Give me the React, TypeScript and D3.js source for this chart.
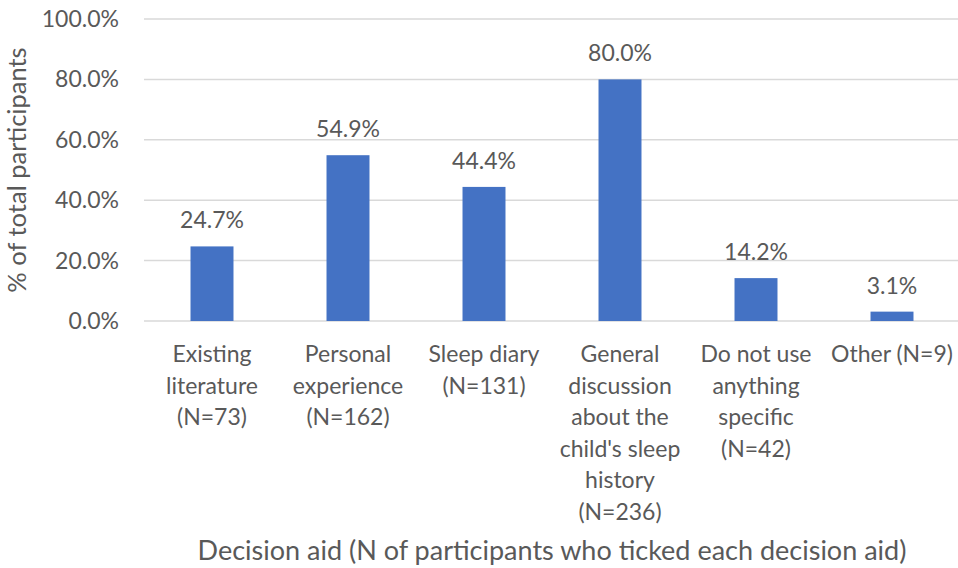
import React from "react";
import * as d3 from "d3";

const categories: string[][] = [
  ["Existing", "literature", "(N=73)"],
  ["Personal", "experience", "(N=162)"],
  ["Sleep diary", "(N=131)"],
  ["General", "discussion", "about the", "child's sleep", "history", "(N=236)"],
  ["Do not use", "anything", "specific", "(N=42)"],
  ["Other (N=9)"],
];
const values: number[] = [24.7, 54.9, 44.4, 80.0, 14.2, 3.1];
const yTicks: number[] = [0, 20, 40, 60, 80, 100];
const yTitle = "% of total participants";
const xTitle = "Decision aid (N of participants who ticked each decision aid)";

const W = 958;
const H = 568;
const FONT = "Lato, 'Open Sans', sans-serif";
const TEXT = "#595959";

export default function App() {
  const x = d3
    .scaleBand<number>()
    .domain(values.map((_, i) => i))
    .range([144, 960])
    .paddingInner(0.684)
    .paddingOuter(0.342);
  const y = d3.scaleLinear().domain([0, 100]).range([321, 19]);

  return (
    <svg width={W} height={H} style={{ position: "absolute", left: 0, top: 0, background: "#fff" }}>
      <rect width={W} height={H} fill="#fff" />
      {yTicks.map((t) => (
        <g key={t}>
          <line x1={144} x2={W} y1={y(t)} y2={y(t)} stroke="#D9D9D9" strokeWidth={1.5} />
          <text
            x={119}
            y={y(t)}
            dy="0.35em"
            textAnchor="end"
            fontFamily={FONT}
            fontSize={23}
            fill={TEXT}
          >
            {t.toFixed(1) + "%"}
          </text>
        </g>
      ))}
      {values.map((v, i) => {
        const bx = x(i)!;
        const cx = bx + x.bandwidth() / 2;
        return (
          <g key={i}>
            <rect x={bx} y={y(v)} width={x.bandwidth()} height={y(0) - y(v)} fill="#4472C4" />
            <text
              x={cx}
              y={y(v) - 18}
              textAnchor="middle"
              fontFamily={FONT}
              fontSize={23}
              fill={TEXT}
            >
              {v.toFixed(1) + "%"}
            </text>
            {categories[i].map((line, j) => (
              <text
                key={j}
                x={cx}
                y={354 + j * 31.6}
                dy="0.35em"
                textAnchor="middle"
                fontFamily={FONT}
                fontSize={23}
                fill={TEXT}
              >
                {line}
              </text>
            ))}
          </g>
        );
      })}
      <text
        x={(144 + 960) / 2}
        y={551}
        dy="0.35em"
        textAnchor="middle"
        fontFamily={FONT}
        fontSize={27}
        fill={TEXT}
      >
        {xTitle}
      </text>
      <text
        transform={`translate(17, ${(y(0) + y(100)) / 2}) rotate(-90)`}
        dy="0.35em"
        textAnchor="middle"
        fontFamily={FONT}
        fontSize={25.5}
        fill={TEXT}
      >
        {yTitle}
      </text>
    </svg>
  );
}
